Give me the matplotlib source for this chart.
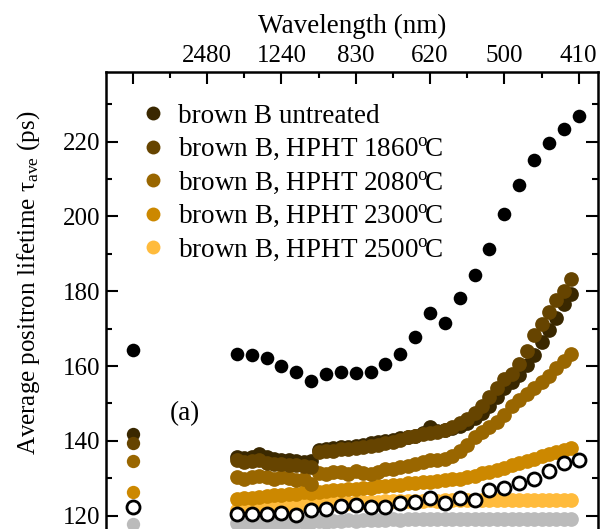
import numpy as np
import matplotlib
matplotlib.use("Agg")
import matplotlib.pyplot as plt
from matplotlib.lines import Line2D

plt.rcParams['font.family'] = ['Liberation Serif', 'DejaVu Serif']
plt.rcParams['mathtext.fontset'] = 'custom'
plt.rcParams['mathtext.rm'] = 'Liberation Serif'
plt.rcParams['mathtext.it'] = 'Liberation Serif:italic'

# photon energy grids (eV)
e_sparse = [0.7, 0.8, 0.9, 1.0, 1.1, 1.2, 1.3, 1.4, 1.5, 1.6, 1.7, 1.8,
            1.9, 2.0, 2.1, 2.2, 2.3, 2.4, 2.5, 2.6, 2.7, 2.8, 2.9, 3.0]
e_dense = np.round(np.arange(0.70, 2.951, 0.05), 2)

# black points (sparse)
tau_black = [163.1, 163.0, 162.2, 160.1, 158.5, 156.1, 158.0, 158.5, 158.2, 158.5, 160.6, 163.3,
             167.9, 174.2, 171.4, 178.1, 184.4, 191.3, 200.7, 208.3, 215.0, 219.7, 223.3, 226.9]
# open circles (sparse)
tau_open = [120.4, 120.5, 120.5, 120.8, 120.2, 121.5, 121.8, 122.7, 122.9, 122.4, 122.3, 123.3,
            123.7, 124.8, 123.5, 124.6, 124.2, 126.9, 127.3, 128.6, 129.8, 132.0, 134.0, 134.9]

tau_untreated = [135.6, 135.3, 135.6, 136.4, 135.8, 135.2, 135.0, 134.8, 134.5, 134.4,
                 134.6, 137.6, 137.8, 138.0, 138.3, 138.4, 138.6, 138.9, 139.3, 139.6,
                 139.9, 140.3, 140.7, 141.0, 141.4, 142.0, 143.6, 142.6, 142.8, 143.4,
                 144.0, 144.8, 146.0, 147.4, 149.2, 151.6, 154.0, 155.8, 157.6, 160.2,
                 163.0, 166.4, 169.6, 172.8, 176.6, 179.4]
tau_1860 = [134.8, 134.4, 134.6, 134.9, 134.2, 133.9, 133.8, 133.6, 133.5, 133.3,
            133.0, 137.0, 137.2, 137.4, 137.7, 137.9, 138.2, 138.4, 138.7, 138.9,
            139.3, 139.8, 140.3, 140.9, 141.4, 141.8, 142.0, 142.4, 142.9, 143.6,
            144.7, 145.8, 147.4, 149.4, 151.8, 154.0, 156.6, 158.0, 160.6, 164.0,
            168.3, 171.2, 174.5, 177.7, 180.1, 183.3]
tau_2080 = [130.2, 129.8, 130.4, 130.6, 130.4, 129.8, 130.2, 130.0, 129.6, 129.9,
            128.4, 131.3, 131.0, 131.6, 131.8, 131.2, 131.9, 131.4, 131.2, 131.8,
            132.4, 132.5, 132.9, 133.4, 133.8, 134.4, 134.9, 134.8, 135.2, 136.0,
            137.4, 139.0, 140.9, 142.4, 143.8, 145.1, 147.0, 149.2, 151.0, 152.6,
            154.2, 155.8, 157.4, 159.6, 161.4, 163.1]
tau_2300 = [124.4, 124.7, 124.8, 125.1, 125.2, 125.5, 125.6, 125.8, 125.9, 126.2,
            126.1, 126.4, 126.5, 126.8, 126.9, 127.1, 127.2, 127.5, 127.5, 127.9,
            128.0, 128.2, 128.3, 128.6, 128.7, 129.0, 129.0, 129.3, 129.4, 129.7,
            129.9, 130.4, 130.7, 131.3, 131.7, 132.3, 132.8, 133.5, 134.0, 134.7,
            135.2, 135.9, 136.4, 137.1, 137.6, 138.2]
tau_2500 = [121.6, 121.8, 122.0, 122.1, 122.3, 122.4, 122.6, 122.7, 122.8, 123.0,
            123.1, 123.2, 123.3, 123.4, 123.5, 123.5, 123.6, 123.6, 123.7, 123.7,
            123.8, 123.8, 123.9, 123.9, 124.0, 124.0, 124.1, 124.0, 124.1, 124.2,
            124.1, 124.2, 124.2, 124.1, 124.2, 124.2, 124.1, 124.2, 124.2, 124.1,
            124.2, 124.2, 124.1, 124.2, 124.2, 124.2]
tau_gray = [117.9, 118.0, 117.9, 118.1, 118.0, 118.2, 118.1, 118.3, 118.2, 118.4,
            118.3, 118.5, 118.4, 118.6, 118.5, 118.7, 118.6, 118.8, 118.7, 118.9,
            118.8, 119.0, 118.9, 119.1, 119.0, 119.2, 119.0, 119.1, 119.0, 119.2,
            119.1, 119.0, 119.2, 119.1, 119.0, 119.2, 119.1, 119.0, 119.1, 119.2,
            119.0, 119.1, 119.1, 119.0, 119.1, 119.1]

# values plotted at 0 eV (dark)
dark_black = 164.3
dark_untreated = 141.8
dark_1860 = 139.3
dark_2080 = 134.5
dark_2300 = 126.4
dark_2500 = 122.4
dark_open = 122.4
dark_gray = 117.7

top_ticks = [0.0, 0.5, 1.0, 1.5, 2.0, 2.5, 3.0]
top_labels = ['', '2480', '1240', '830', '620', '500', '410']

deg = '$^{\\mathrm{o}}\\!$C'
labels = ['brown B untreated', 'brown B, HPHT 1860' + deg,
          'brown B, HPHT 2080' + deg, 'brown B, HPHT 2300' + deg,
          'brown B, HPHT 2500' + deg]
colors = ['#3a2800', '#664400', '#996600', '#cc8800', '#ffbb3c']
c_gray = '#bbbbbb'

fig = plt.figure(figsize=(6.0, 5.29), dpi=100)
ax = fig.add_axes([106 / 600, -0.0454, 492 / 600, 0.909])

def dots(x, y, c, z, ms=10.6):
    ax.plot(x, y, 'o', color=c, ms=ms, mew=0, zorder=z)

dots(e_dense, tau_gray, c_gray, 2)
dots([0], [dark_gray], c_gray, 2, 9.6)
dots(e_dense, tau_2500, colors[4], 3)
dots([0], [dark_2500], colors[4], 3, 9.6)
dots(e_dense, tau_2300, colors[3], 4)
dots([0], [dark_2300], colors[3], 4, 9.6)
dots(e_dense, tau_2080, colors[2], 5)
dots([0], [dark_2080], colors[2], 5, 9.6)
dots(e_dense, tau_untreated, colors[0], 6)
dots([0], [dark_untreated], colors[0], 6, 9.6)
dots(e_dense, tau_1860, colors[1], 7)
dots([0], [dark_1860], colors[1], 7, 9.6)
dots(e_sparse, tau_black, 'black', 8, 9.8)
dots([0], [dark_black], 'black', 8, 9.8)
ax.plot(e_sparse + [0], tau_open + [dark_open], 'o', mfc='white', mec='black',
        ms=9.4, mew=2.0, zorder=9)

ax.set_xlim(-0.18, 3.13)
ax.set_ylim(110, 238.6)

ax.xaxis.tick_top()
ax.xaxis.set_label_position('top')
ax.set_xticks(top_ticks)
ax.set_xticklabels(top_labels)
ax.set_xticks([0.25, 0.75, 1.25, 1.75, 2.25, 2.75], minor=True)
ax.set_yticks([120, 140, 160, 180, 200, 220])
ax.set_yticks([130, 150, 170, 190, 210, 230], minor=True)
ax.tick_params(which='both', direction='in', top=True, bottom=True, left=True, right=True,
               width=1.5, labelsize=18)
ax.tick_params(which='major', length=8.5, pad=4)
ax.tick_params(which='minor', length=4.5)
for s in ax.spines.values():
    s.set_linewidth(1.8)

ax.set_xlabel('Wavelength (nm)', fontsize=19.5, labelpad=8)
ax.text(-0.158, 0.561, 'Average positron lifetime τ$_{\\mathrm{ave}}$ (ps)', rotation=90,
        transform=ax.transAxes, ha='center', va='center', fontsize=18)
ax.text(0.35, 147.4, '(a)', fontsize=19.5, ha='center', va='center')

handles = [Line2D([], [], ls='none', marker='o', color=c, ms=10, mew=0) for c in colors]
ax.legend(handles, labels, loc='upper left', bbox_to_anchor=(0.073, 0.934), frameon=False,
          fontsize=19.5, handlelength=0.8, handletextpad=0.55, labelspacing=0.27,
          borderpad=0, borderaxespad=0)

fig.savefig('out.png', dpi=100)
